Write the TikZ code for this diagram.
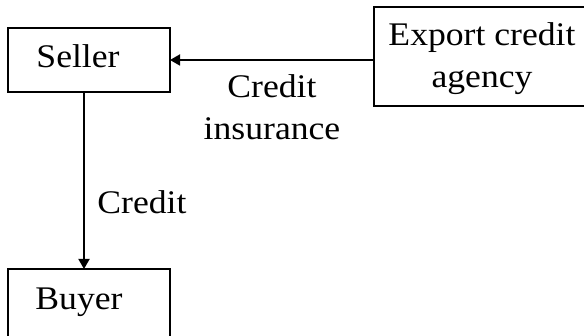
\documentclass[tikz,border=0pt]{standalone}
\usepackage{fontspec}
\setmainfont{Liberation Serif}[FakeStretch=1.08]
\usetikzlibrary{arrows.meta}
\tikzset{
  x=1pt, y=-1pt,
  box/.style={draw, line width=1.8pt, rectangle, inner sep=0pt},
  txt/.style={font=\fontsize{33}{42}\selectfont, inner sep=0pt, anchor=base},
  flow/.style={line width=1.8pt, -{Triangle[length=10pt,width=11pt]}},
}
\begin{document}
\begin{tikzpicture}
  \useasboundingbox (0,0) rectangle (584,336);
  \clip (0,0) rectangle (584,336);
  % boxes
  \node[box, minimum width=162pt, minimum height=64pt] (seller) at (89,60) {};
  \node[box, minimum width=162pt, minimum height=90pt] (buyer) at (89,314) {};
  \node[box, minimum width=220pt, minimum height=99pt] (eca) at (484,56.5) {};
  % box texts (base anchor sits on the last line)
  \node[txt] (sellertxt) at (78,68) {Seller};
  \node[txt] (buyertxt) at (79,310) {Buyer};
  \node[txt, align=center] (ecatxt) at (482,88) {Export credit\\agency};
  % connectors
  \coordinate (sellerbot) at (84,92);
  \coordinate (buyertop) at (84,269);
  \coordinate (ecaleft) at (374,60);
  \coordinate (sellerright) at (170,60);
  \draw[flow] (ecaleft) -- (sellerright);
  \draw[flow] (sellerbot) -- (buyertop);
  % labels
  \node[txt, align=center] (inslbl) at (272,140) {Credit\\insurance};
  \node[txt] (creditlbl) at (142,214) {Credit};
\end{tikzpicture}
\end{document}
